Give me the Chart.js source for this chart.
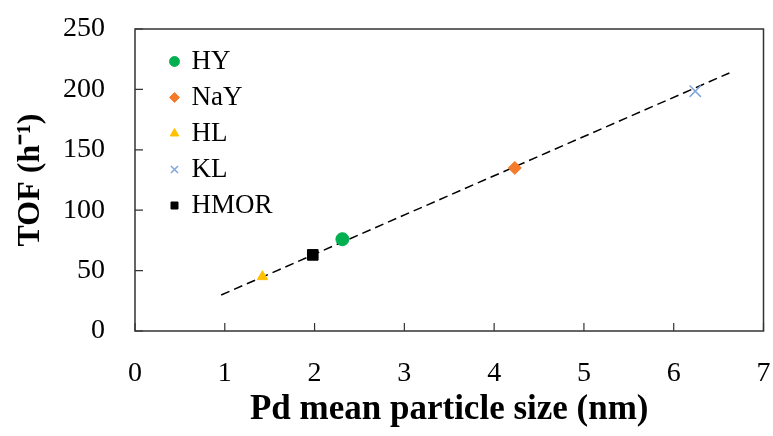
<!DOCTYPE html>
<html lang="en">
<head>
  <meta charset="UTF-8">
  <title>TOF vs Pd particle size</title>
  <style>
    html, body { margin: 0; padding: 0; background: #fff; }
    #wrap { width: 773px; height: 436px; }
  </style>
</head>
<body>
  <div id="wrap"><canvas id="grafico" width="773" height="436"></canvas></div>
  <script src="https://cdn.jsdelivr.net/npm/chart.js"></script>
  <script>
    // dados
    const catalysts = ['HY', 'NaY', 'HL', 'KL', 'HMOR'];
    const particleSize = [2.31, 4.23, 1.42, 6.24, 1.98];   // nm
    const tof = [76, 135, 45, 198.5, 63];                   // h-1
    const trendX = [0.96, 6.62];
    const trendY = [29.8, 213.6];
    const xTicks = [0, 1, 2, 3, 4, 5, 6, 7];
    const yTicks = [0, 50, 100, 150, 200, 250];

    const estilos = {
      HY:   { pointStyle: 'circle',   color: '#00b050', radius: 6.5 },
      NaY:  { pointStyle: 'rectRot',  color: '#f47b2a', radius: 6.5 },
      HL:   { pointStyle: 'triangle', color: '#ffc000', radius: 6 },
      KL:   { pointStyle: 'crossRot', color: '#7fa7dc', radius: 8 },
      HMOR: { pointStyle: 'rect',     color: '#000000', radius: 7.5 }
    };

    const serif = '"Liberation Serif", "Times New Roman", serif';

    const datasets = catalysts.map((nome, i) => ({
      label: nome,
      data: [{ x: particleSize[i], y: tof[i] }],
      pointStyle: estilos[nome].pointStyle,
      pointRadius: estilos[nome].radius,
      backgroundColor: estilos[nome].color,
      borderColor: estilos[nome].color,
      borderWidth: nome === 'KL' ? 1.5 : 1,
      order: 1
    }));
    datasets.unshift({
      label: 'trend',
      type: 'line',
      data: trendX.map((x, i) => ({ x: x, y: trendY[i] })),
      borderColor: '#000',
      borderWidth: 1.5,
      borderDash: [9, 5],
      pointRadius: 0,
      fill: false,
      order: 2
    });

    // sem padding automático dos rótulos
    function semPadding(s) {
      s.paddingTop = 0; s.paddingBottom = 0; s.paddingLeft = 0; s.paddingRight = 0;
    }

    // moldura + marcas para dentro
    const moldura = {
      id: 'moldura',
      afterLayout(chart) {
        const lg = chart.legend, a = chart.chartArea;
        const w = lg.width, h = lg.height;
        lg.left = a.left + 27; lg.right = lg.left + w;
        lg.top = a.top + 10; lg.bottom = lg.top + h;
      },
      afterDraw(chart) {
        const { ctx, chartArea: a, scales } = chart;
        ctx.save();
        ctx.strokeStyle = '#333';
        ctx.lineWidth = 1.5;
        ctx.strokeRect(a.left, a.top, a.right - a.left, a.bottom - a.top);
        ctx.lineWidth = 1.2;
        ctx.beginPath();
        xTicks.forEach(v => {
          const px = scales.x.getPixelForValue(v);
          ctx.moveTo(px, a.bottom); ctx.lineTo(px, a.bottom - 8);
        });
        yTicks.forEach(v => {
          const py = scales.y.getPixelForValue(v);
          ctx.moveTo(a.left, py); ctx.lineTo(a.left + 8, py);
        });
        ctx.stroke();
        ctx.restore();
      }
    };

    new Chart(document.getElementById('grafico'), {
      type: 'scatter',
      data: { datasets: datasets },
      options: {
        responsive: false,
        animation: false,
        layout: { padding: { top: 29, right: 8, left: 0, bottom: 0 } },
        plugins: {
          legend: {
            position: 'chartArea',
            align: 'start',
            labels: {
              usePointStyle: true,
              boxHeight: 7,
              boxWidth: 7,
              padding: 9,
              color: '#000',
              font: { family: serif, size: 27 },
              filter: item => item.text !== 'trend'
            }
          },
          tooltip: { enabled: false }
        },
        scales: {
          x: {
            type: 'linear',
            min: 0, max: 7,
            afterFit: s => { s.height = 105; semPadding(s); },
            afterBuildTicks: s => { s.ticks = xTicks.map(v => ({ value: v })); },
            grid: { display: false, drawTicks: false },
            border: { display: false },
            ticks: { color: '#000', padding: 26, font: { family: serif, size: 28 } },
            title: {
              display: true,
              text: 'Pd mean particle size (nm)',
              color: '#000',
              padding: { top: 0, bottom: 5 },
              font: { family: serif, size: 35, weight: 'bold' }
            }
          },
          y: {
            type: 'linear',
            min: 0, max: 250,
            afterFit: s => { s.width = 135; semPadding(s); },
            afterBuildTicks: s => { s.ticks = yTicks.map(v => ({ value: v })); },
            grid: { display: false, drawTicks: false },
            border: { display: false },
            ticks: { color: '#000', padding: 30, font: { family: serif, size: 28 } },
            title: {
              display: true,
              text: 'TOF (h⁻¹)',
              color: '#000',
              padding: { top: 12, bottom: 0 },
              font: { family: serif, size: 32, weight: 'bold' }
            }
          }
        }
      },
      plugins: [moldura]
    });
  </script>
</body>
</html>
